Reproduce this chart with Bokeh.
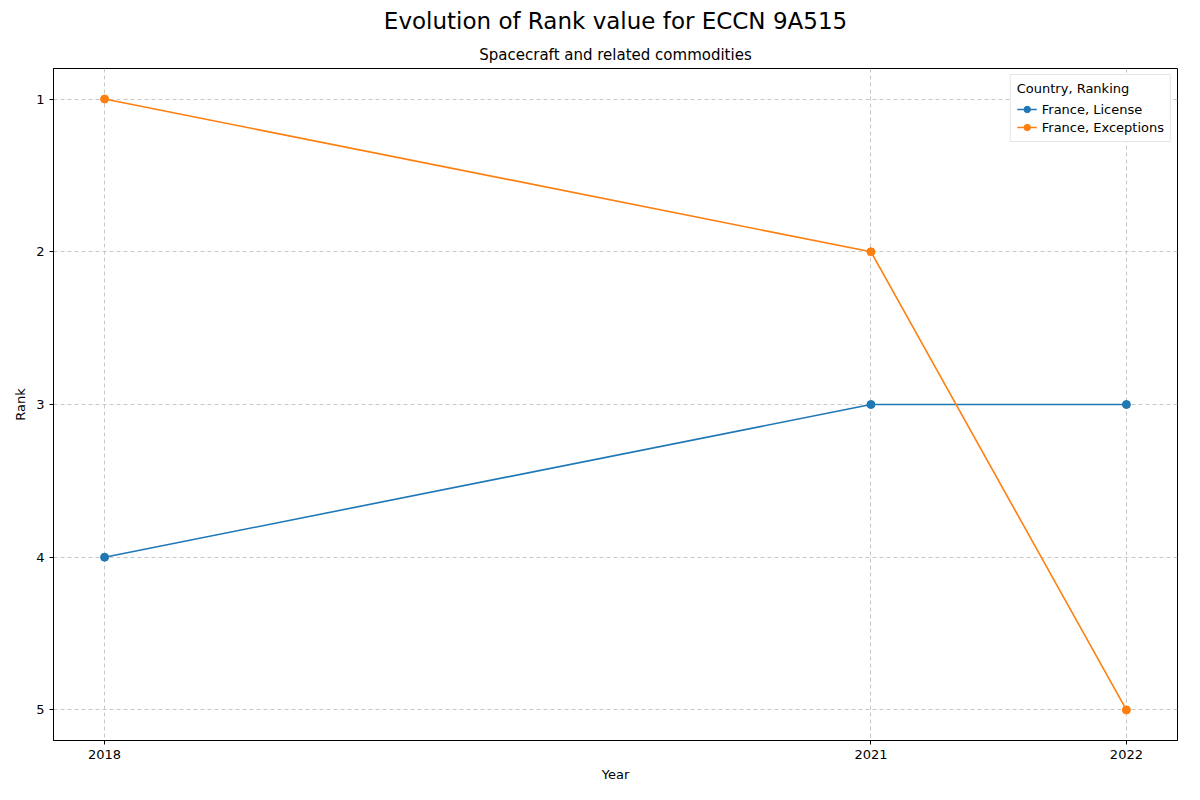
from bokeh.plotting import figure
from bokeh.models import Title, Range1d, FixedTicker, Legend, LegendItem
from bokeh.embed import file_html
from bokeh.resources import INLINE

years = [2018, 2021, 2022]
license_rank = [4, 3, 3]
exceptions_rank = [1, 2, 5]
year_ticks = [2018, 2021, 2022]
rank_ticks = [1, 2, 3, 4, 5]

p = figure(width=1184, height=784, output_backend="svg", toolbar_location=None,
           x_range=Range1d(2017.8, 2022.2), y_range=Range1d(5.2, 0.8),
           min_border_left=53, min_border_right=7, min_border_bottom=42, min_border_top=17)
p.title.text = "Evolution of Rank value for ECCN 9A515"
p.title.align = "center"
p.title.text_font_size = "23px"
p.title.text_font_style = "normal"
p.title.text_font = "DejaVu Sans"
p.title.text_color = "black"
p.add_layout(Title(text="Spacecraft and related commodities", align="center",
                   text_font_size="15px", text_font_style="normal", text_font="DejaVu Sans",
                   text_color="black"), "above")

c1, c2 = "#1f77b4", "#ff7f0e"
l1 = p.line(years, license_rank, line_color=c1, line_width=1.6)
s1 = p.scatter(years, license_rank, size=8, color=c1)
l2 = p.line(years, exceptions_rank, line_color=c2, line_width=1.6)
s2 = p.scatter(years, exceptions_rank, size=8, color=c2)

legend = Legend(items=[LegendItem(label="France, License", renderers=[l1, s1]),
                       LegendItem(label="France, Exceptions", renderers=[l2, s2])],
                location="top_right", title="Country, Ranking",
                label_text_font_size="13px", title_text_font_size="13px",
                title_text_font_style="normal",
                label_text_font="DejaVu Sans", title_text_font="DejaVu Sans",
                label_text_color="black", title_text_color="black",
                border_line_color="#cccccc", glyph_height=16, label_height=16,
                spacing=2, padding=6, margin=6)
p.add_layout(legend)

p.xaxis.ticker = FixedTicker(ticks=year_ticks)
p.yaxis.ticker = FixedTicker(ticks=rank_ticks)
p.xaxis.axis_label = "Year"
p.yaxis.axis_label = "Rank"
for ax in (p.xaxis, p.yaxis):
    ax.axis_label_text_font_style = "normal"
    ax.axis_label_text_font_size = "13px"
    ax.major_label_text_font_size = "13px"
    ax.axis_label_text_font = "DejaVu Sans"
    ax.major_label_text_font = "DejaVu Sans"
    ax.axis_label_text_color = "black"
    ax.major_label_text_color = "black"
    ax.minor_tick_line_color = None
    ax.major_tick_out = 4
    ax.major_tick_in = 0
p.xgrid.grid_line_dash = "4 3"
p.ygrid.grid_line_dash = "4 3"
p.xgrid.grid_line_color = "#c8c8c8"
p.ygrid.grid_line_color = "#c8c8c8"
p.outline_line_color = "black"

open("out.html", "w").write(file_html(p, INLINE))
